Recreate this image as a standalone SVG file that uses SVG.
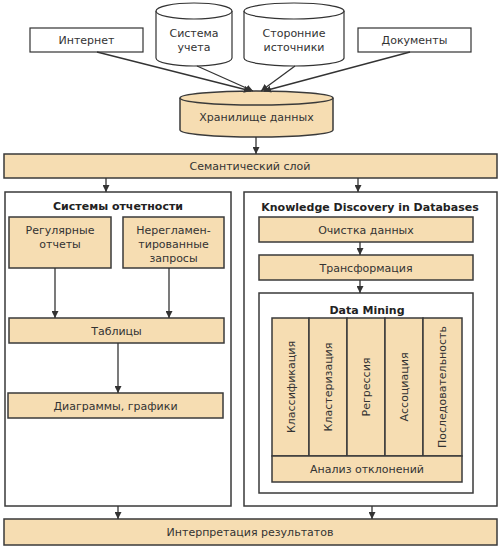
<svg xmlns="http://www.w3.org/2000/svg" width="502" height="548" viewBox="0 0 502 548">
<defs>
<style>
.t{font-family:"DejaVu Sans","Noto Sans",sans-serif;font-size:11px;fill:#333;text-anchor:middle}
.b{font-weight:bold;fill:#222}
.tan{fill:#F6DDB2;stroke:#3a3a3a;stroke-width:1.5}
.wh{fill:#fff;stroke:#3a3a3a;stroke-width:1.5}
.wl{fill:#fff;stroke:#333;stroke-width:1.2}
.c{stroke:#333;stroke-width:1.3;fill:none;marker-end:url(#ah)}
</style>
<marker id="ah" viewBox="0 0 10 10" refX="10" refY="5" markerWidth="7" markerHeight="7" markerUnits="userSpaceOnUse" orient="auto">
<path d="M0,0 L10,5 L0,10 z" fill="#333"/>
</marker>
</defs>
<rect width="502" height="548" fill="#fff"/>

<g id="internet"><rect class="wl" x="30" y="28" width="113" height="24"/><text class="t" x="86.5" y="44">Интернет</text></g>
<g id="docs"><rect class="wl" x="358" y="28" width="113" height="24"/><text class="t" x="414.5" y="44">Документы</text></g>
<g id="sys">
<path class="wl" d="M156,11 L156,58 A38,8 0 0 0 232,58 L232,11"/>
<ellipse class="wl" cx="194" cy="11" rx="38" ry="8"/>
<text class="t" x="194" y="37">Система</text><text class="t" x="194" y="51">учета</text></g>
<g id="ext">
<path class="wl" d="M244,11 L244,58 A50,8 0 0 0 344,58 L344,11"/>
<ellipse class="wl" cx="294" cy="11" rx="50" ry="8"/>
<text class="t" x="294" y="37">Сторонние</text><text class="t" x="294" y="51">источники</text></g>
<g id="dwh">
<path class="tan" d="M180,98 L180,130 A76.5,7 0 0 0 333,130 L333,98"/>
<ellipse class="tan" cx="256.5" cy="98" rx="76.5" ry="7"/>
<text class="t" x="256.5" y="121">Хранилище данных</text></g>

<g id="semantic"><rect class="tan" x="4" y="154" width="493" height="24"/><text class="t" x="250" y="170">Семантический слой</text></g>

<g id="reporting"><rect class="wh" x="5" y="192" width="226" height="314"/><text class="t b" x="118" y="210">Системы отчетности</text></g>
<g id="regular"><rect class="tan" x="9" y="217" width="102" height="51"/><text class="t" x="60" y="234">Регулярные</text><text class="t" x="60" y="248">отчеты</text></g>
<g id="adhoc"><rect class="tan" x="123" y="217" width="101" height="51"/><text class="t" x="173.5" y="234">Нерегламен-</text><text class="t" x="173.5" y="248">тированные</text><text class="t" x="173.5" y="262">запросы</text></g>
<g id="tables"><rect class="tan" x="9" y="318" width="215" height="25"/><text class="t" x="116.5" y="335">Таблицы</text></g>
<g id="charts"><rect class="tan" x="8" y="393" width="215" height="25"/><text class="t" x="115.5" y="410">Диаграммы, графики</text></g>

<g id="kdd"><rect class="wh" x="244" y="192" width="253" height="314"/><text class="t b" x="370" y="211">Knowledge Discovery in Databases</text></g>
<g id="clean"><rect class="tan" x="259" y="217" width="214" height="25"/><text class="t" x="366" y="234">Очистка данных</text></g>
<g id="transform"><rect class="tan" x="259" y="255" width="214" height="25"/><text class="t" x="366" y="272">Трансформация</text></g>
<g id="dm"><rect class="wh" x="259" y="293" width="214" height="200"/><text class="t b" x="367" y="314">Data Mining</text></g>
<g id="classif"><rect class="tan" x="272" y="318" width="37" height="138"/><text class="t" transform="translate(295,387) rotate(-90)">Классификация</text></g>
<g id="cluster"><rect class="tan" x="309" y="318" width="38" height="138"/><text class="t" transform="translate(332,387) rotate(-90)">Кластеризация</text></g>
<g id="regress"><rect class="tan" x="347" y="318" width="38" height="138"/><text class="t" transform="translate(370,387) rotate(-90)">Регрессия</text></g>
<g id="assoc"><rect class="tan" x="385" y="318" width="38" height="138"/><text class="t" transform="translate(408,387) rotate(-90)">Ассоциация</text></g>
<g id="seq"><rect class="tan" x="423" y="318" width="39" height="138"/><text class="t" transform="translate(446,387) rotate(-90)">Последовательность</text></g>
<g id="anomaly"><rect class="tan" x="272" y="456" width="190" height="26"/><text class="t" x="367" y="473">Анализ отклонений</text></g>

<g id="interp"><rect class="tan" x="4" y="519" width="493" height="26"/><text class="t" x="250" y="536">Интерпретация результатов</text></g>

<g id="connectors">
<line class="c" x1="97" y1="52" x2="251" y2="91"/>
<line class="c" x1="197" y1="66" x2="253" y2="91"/>
<line class="c" x1="295" y1="66" x2="261" y2="91"/>
<line class="c" x1="410" y1="52" x2="264" y2="91"/>
<line class="c" x1="256" y1="137" x2="256" y2="154"/>
<line class="c" x1="106" y1="178" x2="106" y2="192"/>
<line class="c" x1="358" y1="178" x2="358" y2="192"/>
<line class="c" x1="55" y1="268" x2="55" y2="318"/>
<line class="c" x1="169" y1="268" x2="169" y2="318"/>
<line class="c" x1="118" y1="343" x2="118" y2="393"/>
<line class="c" x1="360" y1="242" x2="360" y2="255"/>
<line class="c" x1="360" y1="280" x2="360" y2="293"/>
<line class="c" x1="118" y1="506" x2="118" y2="519"/>
<line class="c" x1="372" y1="506" x2="372" y2="519"/>
</g>
</svg>
